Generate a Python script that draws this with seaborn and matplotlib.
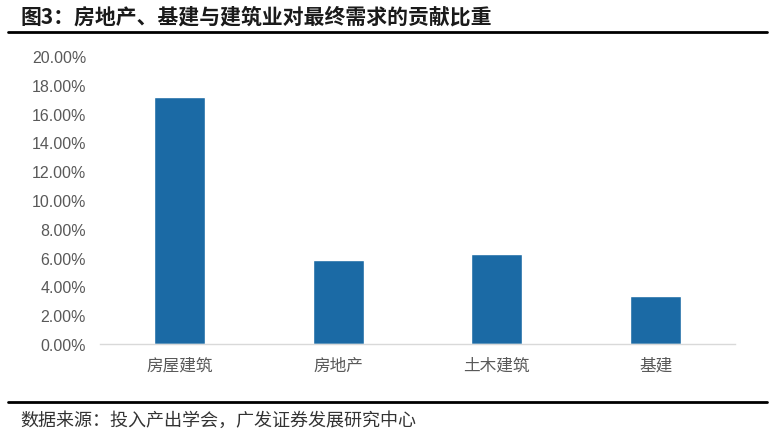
import seaborn as sns
import matplotlib.pyplot as plt
from matplotlib.ticker import FuncFormatter, MultipleLocator
from matplotlib.lines import Line2D

categories = ['房屋建筑', '房地产', '土木建筑', '基建']
shares = [0.1715, 0.0583, 0.0625, 0.0333]

sns.set_style('white')
plt.rcParams['font.family'] = ['Noto Sans CJK SC', 'DejaVu Sans']

fig = plt.figure(figsize=(7.73, 4.39), dpi=100)
ax = fig.add_axes([100/773, 1 - 345/439, 635/773, 288/439])

sns.barplot(x=categories, y=shares, color='#1B6AA5', width=0.32, saturation=1, ax=ax)

ax.set_ylim(0, 0.2)
ax.yaxis.set_major_locator(MultipleLocator(0.02))
ax.yaxis.set_major_formatter(FuncFormatter(lambda v, p: f'{v*100:.2f}%'))
for s in ['top', 'right', 'left']:
    ax.spines[s].set_visible(False)
ax.spines['bottom'].set_color('#D9D9D9')
ax.spines['bottom'].set_linewidth(1)
ax.tick_params(axis='both', length=0, colors='#595959')
ax.tick_params(axis='y', labelsize=11.5, pad=10)
ax.tick_params(axis='x', labelsize=12, pad=9)
ax.set_xlabel('')
ax.set_ylabel('')
for lab in ax.get_yticklabels():
    lab.set_family(['Liberation Sans', 'DejaVu Sans'])

fig.text(20/773, 1 - 17/439, '图3：房地产、基建与建筑业对最终需求的贡献比重',
         fontsize=15, fontweight='bold', color='#1a1a1a', va='center', ha='left')
fig.add_artist(Line2D([8/773, 767/773], [1 - 33/439, 1 - 33/439], color='black', lw=2))
fig.add_artist(Line2D([8/773, 767/773], [1 - 403/439, 1 - 403/439], color='black', lw=2))
fig.text(20/773, 1 - 421/439, '数据来源：投入产出学会，广发证券发展研究中心',
         fontsize=13, color='#333333', va='center', ha='left')

fig.savefig('out.png', dpi=100)
